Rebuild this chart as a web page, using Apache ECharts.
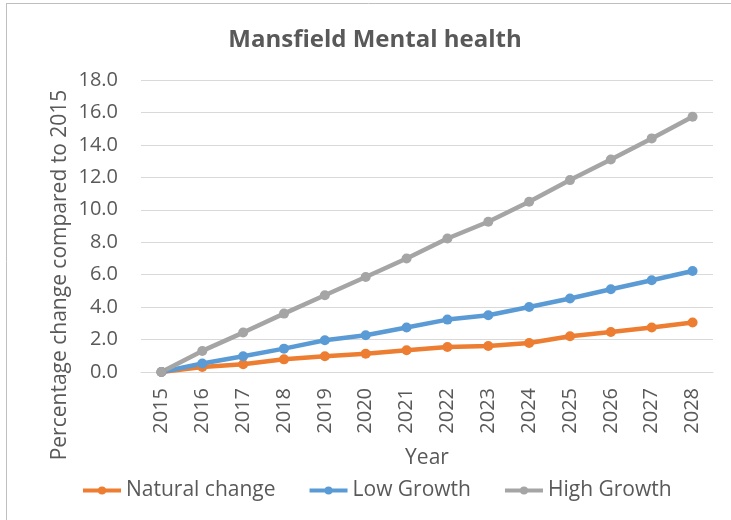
<!DOCTYPE html>
<html>
<head>
<meta charset="utf-8">
<script src="https://cdn.jsdelivr.net/npm/echarts@6/dist/echarts.min.js"></script>
<style>
  html, body { margin: 0; padding: 0; background: #fff; }
  #chart { width: 731px; height: 520px; }
</style>
</head>
<body>
<div id="chart"></div>
<script>
// datos
var years = ["2015", "2016", "2017", "2018", "2019", "2020", "2021", "2022", "2023", "2024", "2025", "2026", "2027", "2028"];
var naturalChange = [0, 0.31, 0.48, 0.78, 0.97, 1.13, 1.34, 1.54, 1.6, 1.79, 2.2, 2.47, 2.74, 3.05];
var lowGrowth = [0, 0.52, 0.97, 1.44, 1.96, 2.27, 2.74, 3.23, 3.5, 4.01, 4.53, 5.1, 5.66, 6.23];
var highGrowth = [0, 1.3, 2.43, 3.6, 4.73, 5.86, 7.0, 8.23, 9.26, 10.49, 11.83, 13.1, 14.4, 15.74];

var fontFam = "'Open Sans', Lato, sans-serif";
var textColor = "#595959";

var chartDom = document.getElementById("chart");
var myChart = echarts.init(chartDom);

function serie(name, data, color) {
    return {
        name: name,
        type: "line",
        data: data,
        symbol: "circle",
        symbolSize: 10,
        lineStyle: { width: 4.5, color: color },
        itemStyle: { color: color },
        emphasis: { disabled: true },
        animation: false
    };
}

var option = {
    backgroundColor: "#fff",
    animation: false,
    title: {
        text: "Mansfield Mental health",
        left: 370,
        top: 23,
        textAlign: "center",
        textStyle: { fontFamily: fontFam, fontSize: 24, fontWeight: "bold", color: textColor }
    },
    legend: {
        left: 76,
        top: 475,
        itemWidth: 38,
        itemHeight: 10,
        itemGap: 32,
        lineStyle: { width: 4 },
        textStyle: { fontFamily: fontFam, fontSize: 21, color: textColor },
        data: ["Natural change", "Low Growth", "High Growth"]
    },
    grid: { left: 141, right: 18, top: 80, bottom: 148 },
    xAxis: {
        type: "category",
        data: years,
        name: "Year",
        nameLocation: "middle",
        nameGap: 76,
        nameTextStyle: { fontFamily: fontFam, fontSize: 21, color: textColor },
        axisLine: { lineStyle: { color: "#d9d9d9", width: 1 } },
        axisTick: { show: false },
        axisLabel: { rotate: 90, margin: 16, fontFamily: fontFam, fontSize: 20, color: textColor }
    },
    yAxis: {
        type: "value",
        min: 0,
        max: 18,
        interval: 2,
        axisLine: { show: false },
        axisTick: { show: false },
        axisLabel: {
            margin: 23,
            fontFamily: fontFam,
            fontSize: 20,
            color: textColor,
            formatter: function (v) { return v.toFixed(1); }
        },
        splitLine: { lineStyle: { color: "#d9d9d9", width: 1 } }
    },
    series: [
        serie("Natural change", naturalChange, "#ed7d31"),
        serie("Low Growth", lowGrowth, "#5b9bd5"),
        serie("High Growth", highGrowth, "#a5a5a5")
    ],
    graphic: [
        // borde del área del gráfico
        { type: "line", shape: { x1: 6, y1: 3.5, x2: 731, y2: 3.5 }, style: { stroke: "#bfbfbf", lineWidth: 1 } },
        { type: "line", shape: { x1: 6.5, y1: 3, x2: 6.5, y2: 520 }, style: { stroke: "#bfbfbf", lineWidth: 1 } },
        // título del eje Y
        {
            type: "text",
            x: 60,
            y: 275,
            rotation: Math.PI / 2,
            style: {
                text: "Percentage change compared to 2015",
                fontFamily: fontFam,
                fontSize: 21,
                fill: textColor,
                align: "center",
                verticalAlign: "middle"
            }
        }
    ]
};

myChart.setOption(option);
</script>
</body>
</html>
